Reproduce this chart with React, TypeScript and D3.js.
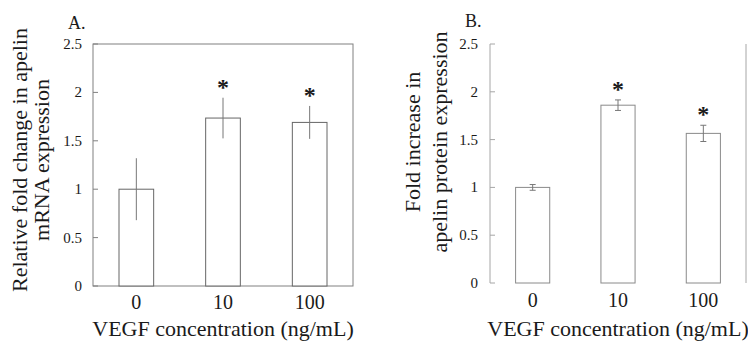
import * as d3 from 'd3';

const doses = ['0', '10', '100'];
const yTicks = [0, 0.5, 1, 1.5, 2, 2.5];
const yTickLabels = ['0', '0.5', '1', '1.5', '2', '2.5'];

// panel A: apelin mRNA
const mrnaMean = [1.0, 1.735, 1.69];
const mrnaErr = [0.32, 0.21, 0.17];
const mrnaStar = [false, true, true];

// panel B: apelin protein
const protMean = [1.0, 1.86, 1.565];
const protErr = [0.03, 0.055, 0.085];
const protStar = [false, true, true];

const FONT = "'Liberation Serif', 'DejaVu Serif', serif";

interface PanelProps {
  label: string;
  titleLines: string[];
  titleX: number[];
  titleY: number;
  means: number[];
  errs: number[];
  stars: boolean[];
  left: number;
  right: number;
  top: number;
  bottom: number;
  boxed: boolean;
  axisColor: string;
  barColor: string;
  errColor: string;
  cap: number;
  tickLabelX: number;
  xTickY: number;
  xTitleY: number;
  labelY: number;
}

const Panel = (p: PanelProps) => {
  const x = d3.scaleBand<string>().domain(doses).range([p.left, p.right]).paddingInner(0.6).paddingOuter(0.3);
  const y = d3.scaleLinear().domain([0, 2.5]).range([p.bottom, p.top]);
  const bw = x.bandwidth();
  const cx = (d: string) => (x(d) || 0) + bw / 2;
  const mid = (p.left + p.right) / 2;

  return (
    <g style={{ fontFamily: FONT }} fill="#1a1a1a">
      {/* frame / axes */}
      {p.boxed ? (
        <rect x={p.left} y={p.top} width={p.right - p.left} height={p.bottom - p.top}
          fill="none" stroke={p.axisColor} strokeWidth={1} />
      ) : (
        <g stroke={p.axisColor} strokeWidth={1}>
          <line x1={p.left} x2={p.left} y1={p.top} y2={p.bottom} />
          <line x1={p.right} x2={p.right} y1={p.top} y2={p.bottom} />
        </g>
      )}

      {/* y ticks */}
      {yTicks.map((t, i) => (
        <g key={t}>
          <line x1={p.left} x2={p.left + 5} y1={y(t)} y2={y(t)} stroke={p.axisColor} />
          <text x={p.tickLabelX} y={y(t)} textAnchor="end" dominantBaseline="central" fontSize={15}>
            {yTickLabels[i]}
          </text>
        </g>
      ))}

      {/* bars */}
      {doses.map((d, i) => (
        <g key={d}>
          <rect x={x(d)} y={y(p.means[i])} width={bw} height={p.bottom - y(p.means[i])}
            fill="#fff" stroke={p.barColor} strokeWidth={1} />
          <line x1={cx(d)} x2={cx(d)} y1={y(p.means[i] + p.errs[i])} y2={y(p.means[i] - p.errs[i])}
            stroke={p.errColor} strokeWidth={1} />
          {p.cap > 0 && (
            <g stroke={p.errColor}>
              <line x1={cx(d) - p.cap} x2={cx(d) + p.cap} y1={y(p.means[i] + p.errs[i])} y2={y(p.means[i] + p.errs[i])} />
              <line x1={cx(d) - p.cap} x2={cx(d) + p.cap} y1={y(p.means[i] - p.errs[i])} y2={y(p.means[i] - p.errs[i])} />
            </g>
          )}
          {p.stars[i] && (
            <text x={cx(d)} y={y(p.means[i] + p.errs[i]) - 3} textAnchor="middle" fontSize={24} fontWeight="bold">*</text>
          )}
          <text x={cx(d)} y={p.xTickY} textAnchor="middle" fontSize={20}>{d}</text>
        </g>
      ))}

      {/* x title */}
      <text x={mid} y={p.xTitleY} textAnchor="middle" fontSize={22}>VEGF concentration (ng/mL)</text>

      {/* y title */}
      {p.titleLines.map((s, i) => (
        <text key={s} transform={`translate(${p.titleX[i]},${p.titleY}) rotate(-90)`} textAnchor="middle" fontSize={22}>
          {s}
        </text>
      ))}

      {/* panel label */}
      <text x={p.left - 25} y={p.labelY} fontSize={18}>{p.label}</text>
    </g>
  );
};

export default function App() {
  return (
    <svg width={748} height={341} style={{ position: 'absolute', left: 0, top: 0, background: '#fff' }}>
      <Panel
        label="A." titleLines={['Relative fold change in apelin', 'mRNA expression']} titleX={[27, 49]} titleY={160}
        means={mrnaMean} errs={mrnaErr} stars={mrnaStar}
        left={93} right={353} top={44} bottom={286} boxed axisColor="#808080" barColor="#666" errColor="#777" cap={0}
        tickLabelX={82} xTickY={309} xTitleY={336} labelY={29}
      />
      <Panel
        label="B." titleLines={['Fold increase in', 'apelin protein expression']} titleX={[420, 447]} titleY={142}
        means={protMean} errs={protErr} stars={protStar}
        left={490} right={746} top={44} bottom={283} boxed={false} axisColor="#a6a6a6" barColor="#8a8a8a" errColor="#777" cap={3}
        tickLabelX={478} xTickY={307} xTitleY={336} labelY={27}
      />
    </svg>
  );
}
